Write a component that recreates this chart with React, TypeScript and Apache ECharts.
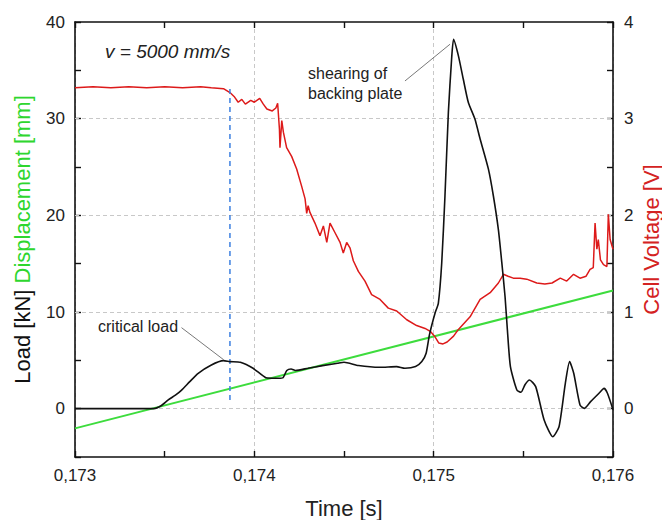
import React, { useEffect, useRef } from "react";
import * as echarts from "echarts";

// Load [kN] vs time [s]
const loadData: [number, number][] = [
  [0.173, 0], [0.1732, 0], [0.17344, 0], [0.17348, 0.3], [0.17352, 0.9], [0.17356, 1.4],
  [0.173593, 1.9], [0.17364, 2.8], [0.173687, 3.66], [0.173758, 4.5], [0.173828, 4.97],
  [0.173864, 4.87], [0.173922, 4.8], [0.173993, 4.18], [0.174064, 3.2], [0.1741, 3.15],
  [0.174134, 3.14], [0.17416, 3.2], [0.174181, 3.94], [0.174205, 4.1], [0.17423, 3.95],
  [0.174299, 4.18], [0.17438, 4.45], [0.174464, 4.7], [0.1745, 4.8], [0.174581, 4.46],
  [0.174699, 4.28], [0.174793, 4.35], [0.17484, 4.18], [0.174899, 4.35], [0.174934, 4.87],
  [0.174958, 5.73], [0.174975, 7.5], [0.174989, 8.6], [0.175008, 9.9], [0.175026, 10.9],
  [0.175045, 15.1], [0.175063, 22.0], [0.175082, 30.65], [0.1751, 36.18], [0.175111, 38.2],
  [0.175138, 36.5], [0.175165, 34.1], [0.175193, 31.7], [0.17523, 29.96], [0.175259, 27.9],
  [0.175305, 24.8], [0.175333, 22.0], [0.175361, 18.5], [0.17538, 15.1], [0.175398, 11.6],
  [0.175411, 8.17], [0.175428, 4.35], [0.175464, 1.93], [0.175487, 1.7], [0.17551, 2.5],
  [0.175534, 2.97], [0.175569, 2.28], [0.175616, -1.17], [0.175664, -2.9], [0.175699, -1.87],
  [0.175734, 2.6], [0.175758, 4.87], [0.175781, 3.66], [0.175816, 0.38], [0.17584, 0.03],
  [0.175875, 0.73], [0.175922, 1.6], [0.17595, 2.1], [0.175969, 1.6], [0.176, -0.1],
];

// Displacement [mm] vs time [s] (straight ramp)
const displacementData: [number, number][] = [
  [0.173, -2.04], [0.176, 12.23],
];

// Cell voltage [V] vs time [s]
const voltageData: [number, number][] = [
  [0.173, 3.32], [0.1731, 3.33], [0.1732, 3.32], [0.1733, 3.33], [0.1734, 3.32],
  [0.1735, 3.33], [0.1736, 3.32], [0.1737, 3.33], [0.17376, 3.32], [0.173828, 3.31],
  [0.173864, 3.27], [0.173887, 3.23], [0.17391, 3.17], [0.17393, 3.2], [0.17395, 3.15],
  [0.17398, 3.19], [0.174, 3.17], [0.17403, 3.21], [0.17405, 3.15], [0.17407, 3.1],
  [0.1741, 3.08], [0.17412, 3.11], [0.17413, 3.16], [0.17414, 2.89], [0.174143, 2.7],
  [0.174153, 2.98], [0.174162, 2.86], [0.17418, 2.7], [0.174208, 2.61], [0.174236, 2.48],
  [0.174264, 2.3], [0.174283, 2.17], [0.174292, 2.02], [0.1743, 2.1], [0.17431, 2.03],
  [0.174338, 1.92], [0.174366, 1.79], [0.174385, 1.89], [0.174404, 1.72], [0.174422, 1.92],
  [0.17445, 1.82], [0.174478, 1.72], [0.174496, 1.61], [0.174515, 1.72], [0.174534, 1.66],
  [0.174552, 1.53], [0.17458, 1.42], [0.174617, 1.32], [0.174654, 1.18], [0.174701, 1.13],
  [0.174747, 1.04], [0.174794, 1.01], [0.17485, 0.92], [0.174905, 0.86], [0.174952, 0.83],
  [0.174981, 0.8], [0.175005, 0.75], [0.175028, 0.68], [0.175052, 0.67], [0.175075, 0.69],
  [0.175111, 0.75], [0.175138, 0.82], [0.175203, 0.95], [0.175259, 1.13], [0.175315, 1.2],
  [0.175361, 1.3], [0.175389, 1.39], [0.175415, 1.37], [0.175444, 1.35], [0.175482, 1.35],
  [0.175519, 1.34], [0.175575, 1.3], [0.17562, 1.29], [0.17566, 1.3], [0.175706, 1.35],
  [0.175742, 1.32], [0.17578, 1.39], [0.175816, 1.35], [0.17585, 1.37], [0.175872, 1.44],
  [0.17589, 1.46], [0.1759, 1.92], [0.17591, 1.65], [0.175918, 1.75], [0.17593, 1.54],
  [0.175947, 1.49], [0.175966, 1.47], [0.175974, 2.01], [0.175984, 1.75], [0.176, 1.65],
];

// Critical load marker (dashed vertical)
const criticalMarker: [number, number][] = [
  [0.173864, 0.9], [0.173864, 33.2],
];

// Annotation leader lines [time, load]
const shearingLeader: [number, number][] = [[0.17484, 33.9], [0.175091, 37.7]];
const criticalLeader: [number, number][] = [[0.173594, 8.38], [0.173829, 5.06]];

const loadGridValues = [0, 10, 20, 30];

const FONT = "'Liberation Sans', Arial, Helvetica, sans-serif";

export default function App() {
  const ref = useRef<HTMLDivElement>(null);

  useEffect(() => {
    if (!ref.current) return;
    const chart = echarts.init(ref.current, undefined, { renderer: "svg" });
    const axisLine = { show: true, onZero: false, lineStyle: { color: "#111", width: 1.6 } };
    const tick = { show: true, inside: true, length: 6, lineStyle: { color: "#111", width: 1.4 } };
    const minorTick = { show: true, splitNumber: 2, length: 6, lineStyle: { color: "#111", width: 1.4 } };
    const gridDash = { color: "#c8c8c8", type: [4, 3] as any, width: 1 };

    chart.setOption({
      animation: false,
      textStyle: { fontFamily: FONT },
      grid: { left: 75, right: 49, top: 22, bottom: 63, containLabel: false, outerBoundsMode: "none" },
      xAxis: [
        {
          type: "value",
          min: 0.173,
          max: 0.176,
          interval: 0.001,
          position: "bottom",
          axisLine,
          axisTick: tick,
          minorTick,
          splitLine: { show: true, lineStyle: gridDash },
          axisLabel: {
            fontSize: 17,
            color: "#222",
            margin: 10,
            fontFamily: FONT,
            formatter: (v: number) => v.toFixed(3).replace(".", ","),
          },
          name: "Time [s]",
          nameLocation: "middle",
          nameGap: 40,
          nameMoveOverlap: false,
          nameTextStyle: { fontSize: 22, color: "#222", fontFamily: FONT },
        },
        {
          type: "value",
          min: 0.173,
          max: 0.176,
          interval: 0.001,
          position: "top",
          axisLine,
          axisTick: tick,
          minorTick,
          splitLine: { show: false },
          axisLabel: { show: false },
        },
      ],
      yAxis: [
        {
          type: "value",
          min: -5,
          max: 40,
          interval: 5,
          position: "left",
          axisLine,
          axisTick: tick,
          splitLine: { show: false },
          axisLabel: {
            fontSize: 17,
            color: "#222",
            margin: 10,
            fontFamily: FONT,
            formatter: (v: number) => (Math.abs(v % 10) < 1e-9 ? String(v) : ""),
          },
          name: "{a|Load [kN]} {b|Displacement [mm]}",
          nameLocation: "middle",
          nameGap: 42,
          nameRotate: 90,
          nameMoveOverlap: false,
          nameTextStyle: {
            fontSize: 22,
            fontFamily: FONT,
            rich: {
              a: { fontSize: 22, color: "#111", fontFamily: FONT },
              b: { fontSize: 22, color: "#2ed62e", fontFamily: FONT },
            },
          },
        },
        {
          type: "value",
          min: -0.5,
          max: 4,
          interval: 0.5,
          position: "right",
          axisLine,
          axisTick: tick,
          splitLine: { show: false },
          axisLabel: {
            fontSize: 17,
            color: "#222",
            margin: 11,
            fontFamily: FONT,
            formatter: (v: number) =>
              Math.abs(v - Math.round(v)) < 1e-9 ? String(Math.round(v)) : "",
          },
          name: "Cell Voltage [V]",
          nameLocation: "middle",
          nameGap: 27,
          nameRotate: 90,
          nameMoveOverlap: false,
          nameTextStyle: { fontSize: 22, color: "#d42222", fontFamily: FONT },
        },
      ],
      series: [
        {
          name: "Displacement",
          type: "line",
          xAxisIndex: 0,
          yAxisIndex: 0,
          data: displacementData,
          symbol: "none",
          lineStyle: { color: "#3ddc3d", width: 2 },
          z: 2,
          markLine: {
            silent: true,
            symbol: "none",
            z: 1,
            label: { show: false },
            lineStyle: gridDash,
            data: loadGridValues.map((v) => ({ yAxis: v })),
          },
        },
        {
          name: "Voltage",
          type: "line",
          xAxisIndex: 0,
          yAxisIndex: 1,
          data: voltageData,
          symbol: "none",
          lineStyle: { color: "#dd1a1a", width: 1.5 },
          z: 3,
        },
        {
          name: "Critical",
          type: "line",
          xAxisIndex: 0,
          yAxisIndex: 0,
          data: criticalMarker,
          symbol: "none",
          lineStyle: { color: "#3b7fe0", width: 1.5, type: [5, 4] },
          z: 3,
        },
        {
          name: "Load",
          type: "line",
          xAxisIndex: 0,
          yAxisIndex: 0,
          data: loadData,
          symbol: "none",
          smooth: 0.2,
          lineStyle: { color: "#111", width: 1.6 },
          z: 4,
          markLine: {
            silent: true,
            symbol: "none",
            z: 5,
            label: { show: false },
            lineStyle: { color: "#555", width: 0.8, type: "solid" },
            data: [
              [{ coord: shearingLeader[0] }, { coord: shearingLeader[1] }],
              [{ coord: criticalLeader[0] }, { coord: criticalLeader[1] }],
            ],
          },
        },
      ],
      graphic: [
        {
          type: "text",
          left: 105,
          top: 42,
          style: {
            text: "v = 5000 mm/s",
            fontSize: 19,
            fontStyle: "italic",
            fontFamily: FONT,
            fill: "#222",
          },
        },
        {
          type: "text",
          left: 308,
          top: 63,
          style: {
            text: "shearing of\nbacking plate",
            fontSize: 16,
            lineHeight: 20,
            fontFamily: FONT,
            fill: "#222",
          },
        },
        {
          type: "text",
          left: 98,
          top: 318,
          style: {
            text: "critical load",
            fontSize: 16,
            fontFamily: FONT,
            fill: "#222",
          },
        },
      ],
    });
    return () => chart.dispose();
  }, []);

  return (
    <div
      ref={ref}
      style={{ position: "fixed", left: 0, top: 0, width: 662, height: 520, background: "#fff" }}
    />
  );
}
